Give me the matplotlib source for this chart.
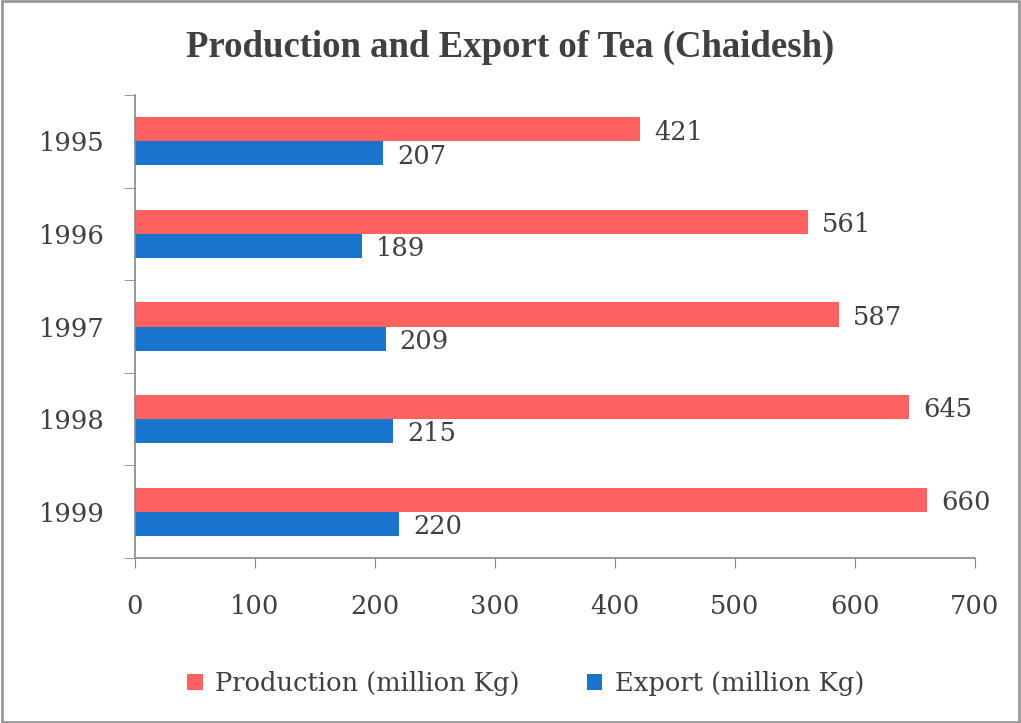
import numpy as np
import matplotlib.pyplot as plt
from matplotlib.patches import Rectangle

# data
years = ["1995", "1996", "1997", "1998", "1999"]
production = [421, 561, 587, 645, 660]
export = [207, 189, 209, 215, 220]

red = "#FF6161"
blue = "#1874CD"
txt = "#404040"
plt.rcParams['font.family'] = ['DejaVu Serif']

fig = plt.figure(figsize=(10.21, 7.23), dpi=100)
ax = fig.add_axes([0.1322, 0.2282, 0.8228, 0.6404])

y = np.arange(len(years))
h = 0.26
b1 = ax.barh(y - h / 2, production, height=h, color=red, label="Production (million Kg)")
b2 = ax.barh(y + h / 2, export, height=h, color=blue, label="Export (million Kg)")

for bars in (b1, b2):
    for bar in bars:
        w = bar.get_width()
        ax.annotate(str(int(w)), (w, bar.get_y() + bar.get_height() / 2),
                    xytext=(10, -2), textcoords="offset points",
                    ha="left", va="center", fontsize=18.5, color=txt)

ax.set_xlim(0, 700)
ax.set_xticks(range(0, 701, 100))
ax.set_ylim(len(years) - 0.5, -0.5)
ax.set_yticks(y)
ax.set_yticklabels(years)
ax.set_yticks(np.arange(-0.5, len(years)), minor=True)
ax.tick_params(axis="y", which="major", length=0, pad=22, labelsize=18.5, labelcolor=txt)
ax.tick_params(axis="y", which="minor", length=8, color="#888888")
ax.tick_params(axis="x", length=7, color="#888888", pad=19, labelsize=18.5, labelcolor=txt)

for s in ("top", "right"):
    ax.spines[s].set_visible(False)
for s in ("left", "bottom"):
    ax.spines[s].set_color("#888888")
    ax.spines[s].set_linewidth(1.2)

fig.suptitle("Production and Export of Tea (Chaidesh)", y=0.958, fontsize=26.5,
             fontweight="bold", color=txt, family="Liberation Serif")

fig.legend(handles=[b1, b2], loc="center", bbox_to_anchor=(0.515, 0.055), ncol=2,
           frameon=False, fontsize=18.5, handlelength=0.6, handleheight=0.6,
           handletextpad=0.5, columnspacing=2.6, labelcolor=txt)

fig.patches.append(Rectangle((0.002, 0.002), 0.996, 0.996, transform=fig.transFigure,
                             fill=False, edgecolor="#999999", linewidth=2))

fig.savefig("out.png", dpi=100)
